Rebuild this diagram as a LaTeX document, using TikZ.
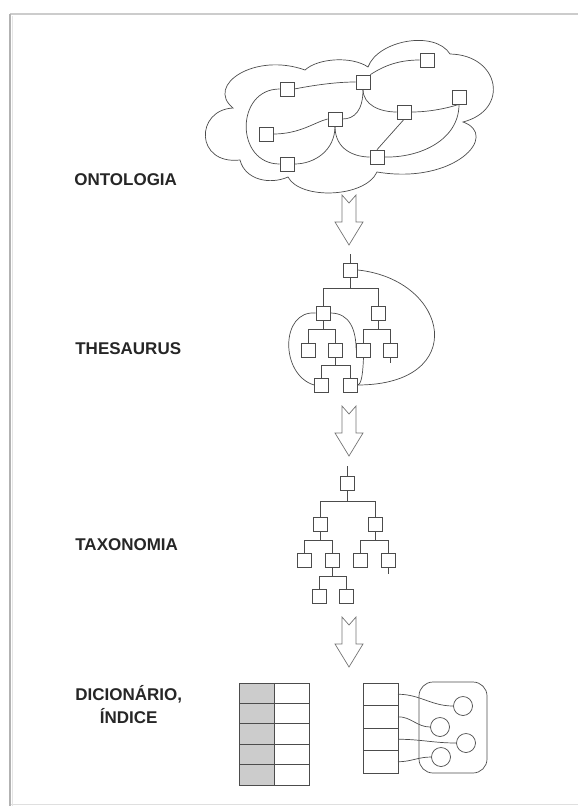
\documentclass[tikz,border=0pt]{standalone}
\usepackage{fontspec}
\setmainfont{Liberation Sans}
\usetikzlibrary{calc}

\tikzset{
  sq/.style={draw, fill=white, minimum size=14pt, inner sep=0pt},
  circ/.style={draw, circle, fill=white, minimum size=19pt, inner sep=0pt},
  cell/.style={draw, minimum width=35pt, inner sep=0pt, outer sep=0pt},
  lbl/.style={anchor=west, align=center, inner sep=0pt, text=black!85,
    font=\fontsize{17}{23}\selectfont\bfseries},
  branch/.style={to path={(\tikztostart.south)
    -- ($(\tikztostart.south)!0.4!(\tikztostart.south |- \tikztotarget.north)$)
    -| (\tikztotarget.north)}},
  hollow/.style={draw=black!55, line width=0.7pt, line join=miter}
}

\begin{document}
\begin{tikzpicture}[x=1pt, y=-1pt, line width=0.7pt, draw=black!70]
  \useasboundingbox (0,0) rectangle (578,806);
  % frame
  \draw[gray!25, line width=1pt] (10,804) -- (578,804);
  \draw[gray!40, line width=1.2pt] (10,14) -- (578,14);
  \draw[gray!60, line width=1.6pt] (10,14) -- (10,806);
  \draw[gray!20, line width=1pt] (12,16) -- (12,806);

  % labels
  \node[lbl] (lont) at (74,180) {ONTOLOGIA};
  \node[lbl] (lthe) at (75,349) {THESAURUS};
  \node[lbl] (ltax) at (75,545) {TAXONOMIA};
  \node[lbl] (ldic) at (75,705) {DICIONÁRIO,\\ÍNDICE};

  % cloud
  \draw (233,108) .. controls (205,85) and (255,52) .. (305,70)
    .. controls (318,58) and (352,56) .. (368,67)
    .. controls (378,40) and (435,30) .. (450,54)
    .. controls (500,55) and (510,110) .. (463,122)
    .. controls (500,135) and (455,185) .. (377,172)
    .. controls (365,198) and (300,200) .. (288,177)
    .. controls (270,185) and (245,180) .. (240,160)
    .. controls (195,165) and (195,110) .. (233,108) -- cycle;

  \node[sq] (o1) at (427,60) {};
  \node[sq] (o2) at (363,82) {};
  \node[sq] (o3) at (287,89) {};
  \node[sq] (o4) at (459,97) {};
  \node[sq] (o5) at (404,112) {};
  \node[sq] (o6) at (335,119) {};
  \node[sq] (o7) at (266,134) {};
  \node[sq] (o8) at (377,157) {};
  \node[sq] (o9) at (287,164) {};

  \draw (o3.east) .. controls (320,84) and (340,82) .. (o2.west);
  \draw (o2.north east) .. controls (385,65) and (400,60) .. (o1.west);
  \draw (o2.south) .. controls (363,105) and (380,112) .. (o5.west);
  \draw (o5.east) .. controls (430,112) and (448,108) .. (o4.south);
  \draw (o2.south) .. controls (363,110) and (355,119) .. (o6.east);
  \draw (o7.east) .. controls (300,134) and (315,122) .. (o6.west);
  \draw (o6.south) .. controls (335,150) and (315,164) .. (o9.east);
  \draw (o6.south) .. controls (335,150) and (355,157) .. (o8.west);
  \draw (o5.south) -- (o8.north);
  \draw (o4.south) .. controls (459,140) and (420,158) .. (o8.east);
  \draw (o3.west) .. controls (235,89) and (235,164) .. (o9.west);

  % arrows
  \foreach \yt in {195,406,617}
    \draw[hollow] (342,\yt) -- (349,\yt+8) -- (356,\yt) -- (356,\yt+27)
      -- (363,\yt+27) -- (349,\yt+50) -- (335,\yt+27) -- (342,\yt+27) -- cycle;

  % thesaurus
  \node[sq] (t0) at (350.5,270) {};
  \node[sq] (ta) at (323,313) {};
  \node[sq] (tb) at (378,313) {};
  \node[sq] (taa) at (308,350) {};
  \node[sq] (tab) at (335.5,350) {};
  \node[sq] (tba) at (363.5,350) {};
  \node[sq] (tbb) at (390.5,350) {};
  \node[sq] (taba) at (321.5,385) {};
  \node[sq] (tabb) at (350,385) {};

  \draw (t0.north) -- ++(0,-9);
  \draw (tbb.south) -- ++(0,6);
  \draw (t0) to[branch] (ta) (t0) to[branch] (tb);
  \draw (ta) to[branch] (taa) (ta) to[branch] (tab);
  \draw (tb) to[branch] (tba) (tb) to[branch] (tbb);
  \draw (tab) to[branch] (taba) (tab) to[branch] (tabb);
  \draw (ta.west) .. controls (280,310) and (280,375) .. (taba.west);
  \draw (ta.east) .. controls (350,313) and (356,330) .. (tba.west);
  \draw (tba.south) .. controls (363,370) and (362,385) .. (tabb.east);
  \draw (t0.east) .. controls (450,280) and (470,385) .. (tabb.east);

  % taxonomy
  \node[sq] (x0) at (347.5,483) {};
  \node[sq] (xa) at (320,524.5) {};
  \node[sq] (xb) at (375.5,524.5) {};
  \node[sq] (xaa) at (304.5,560.5) {};
  \node[sq] (xab) at (332,560.5) {};
  \node[sq] (xba) at (360,560.5) {};
  \node[sq] (xbb) at (388,560.5) {};
  \node[sq] (xaba) at (319,596) {};
  \node[sq] (xabb) at (346,596) {};

  \draw (x0.north) -- ++(0,-10);
  \draw (xbb.south) -- ++(0,6);
  \draw (x0) to[branch] (xa) (x0) to[branch] (xb);
  \draw (xa) to[branch] (xaa) (xa) to[branch] (xab);
  \draw (xb) to[branch] (xba) (xb) to[branch] (xbb);
  \draw (xab) to[branch] (xaba) (xab) to[branch] (xabb);

  % dictionary, index
  \foreach \i in {0,...,4} {
    \node[cell, fill=gray!40, minimum height=20.4pt] (dk\i) at (256.5,{683+20.4*(\i+0.5)}) {};
    \node[cell, minimum height=20.4pt] (dv\i) at (291.5,{683+20.4*(\i+0.5)}) {};
  }
  \node[draw, rounded corners=14pt, minimum width=68pt, minimum height=91pt] (grp) at (453,727.5) {};
  \foreach \i in {0,...,3}
    \node[cell, minimum height=22.5pt] (ix\i) at (380.5,{683+22.5*(\i+0.5)}) {};
  \node[circ] (c1) at (463,706) {};
  \node[circ] (c2) at (440,727) {};
  \node[circ] (c3) at (466,743) {};
  \node[circ] (c4) at (441,757) {};

  \draw (ix0.east) to[out=0, in=180] (c1.west);
  \draw (ix1.east) to[out=0, in=180] (c2.west);
  \draw (ix2.east) to[out=0, in=180] (c3.west);
  \draw (ix3.east) to[out=0, in=180] (c4.west);
\end{tikzpicture}
\end{document}
